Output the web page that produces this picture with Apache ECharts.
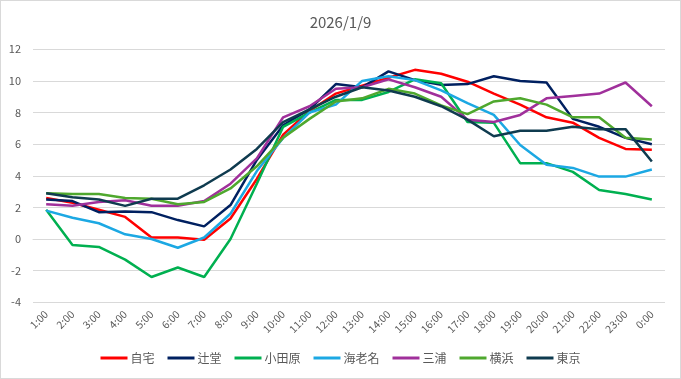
<!DOCTYPE html>
<html>
<head>
<meta charset="utf-8">
<script src="https://cdn.jsdelivr.net/npm/echarts@6/dist/echarts.min.js"></script>
<style>
html,body{margin:0;padding:0;background:#fff;}
#c{width:679px;height:377px;border:1px solid #d9d9d9;}
</style>
</head>
<body>
<div id="c"></div>
<script>
const title = '2026/1/9';
const categories = ['1:00','2:00','3:00','4:00','5:00','6:00','7:00','8:00','9:00','10:00','11:00','12:00','13:00','14:00','15:00','16:00','17:00','18:00','19:00','20:00','21:00','22:00','23:00','0:00'];
const yTicks = { min: -4, max: 12, interval: 2 };
const seriesNames = ['自宅','辻堂','小田原','海老名','三浦','横浜','東京'];
const jitaku   = [2.6, 2.3, 1.85, 1.4, 0.1, 0.1, -0.05, 1.3, 3.8, 6.6, 8.1, 9.2, 9.7, 10.2, 10.7, 10.45, 9.95, 9.2, 8.5, 7.7, 7.36, 6.4, 5.7, 5.65];
const tsujido  = [2.5, 2.4, 1.7, 1.75, 1.7, 1.2, 0.8, 2.15, 5.0, 7.2, 8.2, 9.8, 9.6, 10.6, 10.05, 9.75, 9.8, 10.3, 10.0, 9.9, 7.6, 7.1, 6.4, 6.0];
const odawara  = [1.85, -0.37, -0.5, -1.3, -2.4, -1.8, -2.4, 0.0, 3.5, 7.1, 8.0, 8.8, 8.8, 9.3, 10.1, 9.85, 7.4, 7.35, 4.8, 4.8, 4.25, 3.1, 2.85, 2.5];
const ebina    = [1.8, 1.35, 1.0, 0.3, 0.0, -0.55, 0.1, 1.6, 4.3, 6.4, 8.0, 8.5, 10.0, 10.3, 10.05, 9.4, 8.6, 7.85, 5.95, 4.7, 4.5, 3.95, 3.95, 4.4];
const miura    = [2.2, 2.1, 2.35, 2.45, 2.1, 2.1, 2.4, 3.5, 5.1, 7.7, 8.4, 9.5, 9.6, 10.1, 9.6, 9.0, 7.55, 7.4, 7.85, 8.9, 9.05, 9.2, 9.9, 8.4];
const yokohama = [2.9, 2.85, 2.85, 2.6, 2.55, 2.2, 2.35, 3.2, 4.6, 6.4, 7.6, 8.7, 8.9, 9.5, 9.2, 8.45, 7.9, 8.7, 8.9, 8.5, 7.7, 7.7, 6.4, 6.3];
const tokyo    = [2.9, 2.65, 2.5, 2.1, 2.55, 2.55, 3.4, 4.4, 5.7, 7.4, 8.2, 9.0, 9.6, 9.4, 9.0, 8.4, 7.55, 6.5, 6.85, 6.85, 7.1, 6.95, 6.95, 4.9];
const seriesData = [jitaku, tsujido, odawara, ebina, miura, yokohama, tokyo];
const colors = ['#ff0000','#002060','#00b050','#1ca8e3','#a0309b','#4fa82e','#0f3b4f'];

const font = '"Noto Sans CJK JP", "Noto Sans", sans-serif';
const chart = echarts.init(document.getElementById('c'));
chart.setOption({
  animation: false,
  color: colors,
  textStyle: { fontFamily: font },
  title: {
    text: title, left: 'center', top: 9,
    textStyle: { color: '#595959', fontSize: 15, fontWeight: 'normal', fontFamily: font }
  },
  legend: {
    bottom: 9, left: 'center',
    icon: 'rect', itemWidth: 27, itemHeight: 3, itemGap: 13,
    textStyle: { color: '#595959', fontSize: 12, fontFamily: font, padding: [0,0,0,-2] },
    data: seriesNames
  },
  grid: { left: 32, right: 15, top: 48.3, bottom: 75.7, containLabel: false },
  xAxis: {
    type: 'category', data: categories, boundaryGap: true,
    axisLine: { show: true, lineStyle: { color: '#d9d9d9' } },
    axisTick: { show: false },
    axisLabel: { rotate: 45, color: '#595959', fontSize: 10.5, margin: 10, interval: 0, fontFamily: font }
  },
  yAxis: {
    type: 'value', min: yTicks.min, max: yTicks.max, interval: yTicks.interval,
    axisLine: { show: false }, axisTick: { show: false },
    splitLine: { lineStyle: { color: '#d9d9d9', width: 1 } },
    axisLabel: { color: '#595959', fontSize: 11, margin: 12, fontFamily: font }
  },
  series: seriesNames.map((n, i) => ({
    name: n, type: 'line', data: seriesData[i],
    showSymbol: false, symbol: 'none',
    lineStyle: { width: 2.5, color: colors[i] },
    itemStyle: { color: colors[i] }
  }))
});
</script>
</body>
</html>
